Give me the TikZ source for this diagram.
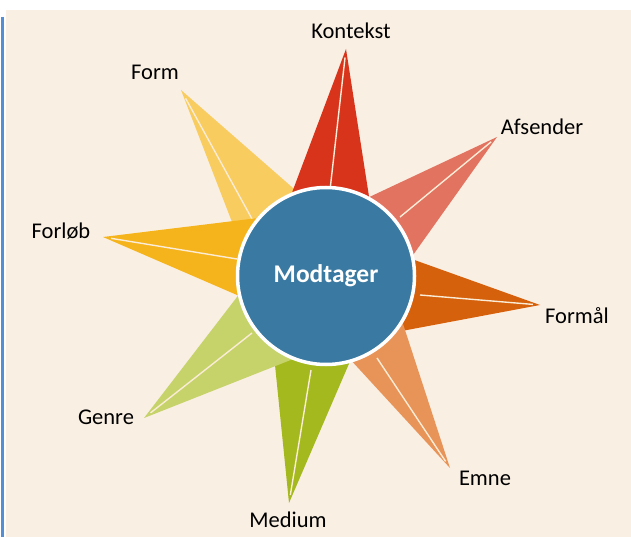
\documentclass[tikz,border=0pt]{standalone}
\usepackage{fontspec}
\setmainfont{Carlito}
\usetikzlibrary{calc}

\definecolor{paper}{RGB}{250,239,227}
\definecolor{frameblue}{RGB}{84,142,212}
\definecolor{hubblue}{RGB}{58,122,162}
\definecolor{seamc}{RGB}{250,236,215}
\definecolor{formc}{RGB}{248,204,94}
\definecolor{kontc}{RGB}{216,52,28}
\definecolor{afsc}{RGB}{226,115,96}
\definecolor{formalc}{RGB}{214,97,12}
\definecolor{emnec}{RGB}{232,148,88}
\definecolor{mediumc}{RGB}{164,185,30}
\definecolor{genrec}{RGB}{198,211,106}
\definecolor{forlobc}{RGB}{246,180,28}

\tikzset{
  seam/.style={draw=seamc, line width=1.4pt},
  lbl/.style={font=\fontsize{22.5}{26}\selectfont, text=black, inner sep=0pt, anchor=base},
  hub/.style={circle, fill=hubblue, draw=white, line width=3.5pt, minimum size=177pt,
              font=\fontsize{25.5}{30}\selectfont\bfseries, text=white}
}

\begin{document}
\begin{tikzpicture}[x=1pt, y=-1pt]
  \useasboundingbox (0,0) rectangle (631,537);
  \fill[white] (0,0) rectangle (631,537);
  \fill[paper] (6,10) rectangle (631,537);
  \draw[frameblue, line width=2.8pt] (2.5,17) -- (2.5,537);

  % rays of the star: tip, two flank points near the hub, end of the seam line
  \foreach \nm/\col/\tx/\ty/\ax/\ay/\bx/\by/\lx/\ly in {
      form/formc/181/90/232/222/293/188/257/228,
      kontekst/kontc/346/49/293/190/368/190/330/190,
      afsender/afsc/497/137/380/192/418/248/400/217,
      formaal/formalc/540/305/420/262/407/330/420/295,
      emne/emnec/450/468/405/330/360/370/377/358,
      medium/mediumc/289/503/345/373/275/365/311/370,
      genre/genrec/144/418/278/365/237/297/252/333,
      forloeb/forlobc/103/237/237/295/250/219/237/259} {
    \coordinate (\nm-tip) at (\tx,\ty);
    \coordinate (\nm-a) at (\ax,\ay);
    \coordinate (\nm-b) at (\bx,\by);
    \coordinate (\nm-l) at (\lx,\ly);
    \fill[\col] (\nm-tip) -- ($(\nm-tip)!1.35!(\nm-a)$) -- ($(\nm-tip)!1.35!(\nm-b)$) -- cycle;
    \draw[seam] ($(\nm-tip)!0.06!(\nm-l)$) -- (\nm-l);
  }

  \node[hub] (modtager) at (326,276) {Modtager};

  \node[lbl] (kontekst) at (351,39) {Kontekst};
  \node[lbl] (afsender) at (542,135) {Afsender};
  \node[lbl] (formaal) at (577,323) {Formål};
  \node[lbl] (emne) at (485,485) {Emne};
  \node[lbl] (medium) at (288,527) {Medium};
  \node[lbl] (genre) at (106,424) {Genre};
  \node[lbl] (forloeb) at (61,238) {Forløb};
  \node[lbl] (form) at (155,80) {Form};
\end{tikzpicture}
\end{document}
